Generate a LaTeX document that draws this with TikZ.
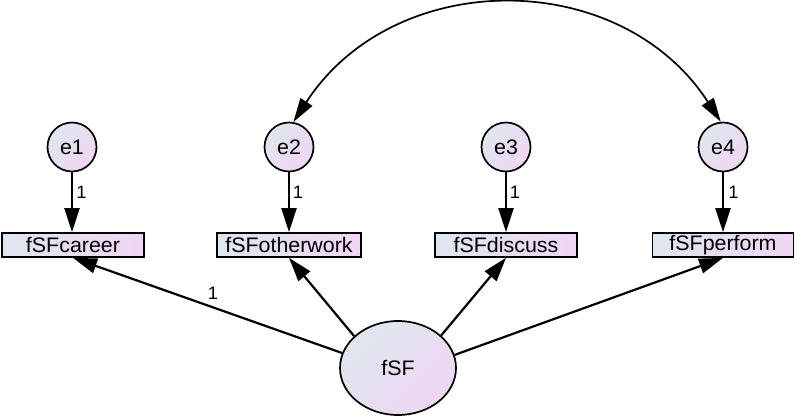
\documentclass[tikz,border=0pt]{standalone}
\usepackage{fontspec}
\setmainfont[FakeStretch=1.02]{Liberation Sans}
\usetikzlibrary{arrows.meta,shapes.geometric}
\definecolor{cL}{RGB}{222,231,238}
\definecolor{cR}{RGB}{240,214,244}
\begin{document}
\begin{tikzpicture}[x=1pt,y=1pt,
  every node/.style={font=\fontsize{21}{23}\selectfont, inner sep=0pt},
  errc/.style={circle, draw, line width=1.7pt, minimum size=49pt, top color=cL, bottom color=cR, shading angle=45},
  obsbox/.style={rectangle, draw, line width=1.7pt, minimum height=24pt, top color=cL, bottom color=cR, shading angle=90},
  latent/.style={ellipse, draw, line width=1.7pt, minimum width=116pt, minimum height=94pt, top color=cL, bottom color=cR, shading angle=45},
  arr/.style={line width=2.2pt, -{Triangle[length=24pt,width=15pt]}},
  cov/.style={line width=1.7pt, {Triangle[length=24pt,width=14pt]}-{Triangle[length=24pt,width=14pt]}},
  lab/.style={font=\fontsize{18}{20}\selectfont}
]
\useasboundingbox (0,0) rectangle (795,417);
\node[errc] (e1) at (72,270) {e1};
\node[errc] (e2) at (289,270) {e2};
\node[errc] (e3) at (506,270) {e3};
\node[errc] (e4) at (723,270) {e4};
\node[obsbox, minimum width=142pt] (b1) at (73,172) {fSFcareer};
\node[obsbox, minimum width=144pt] (b2) at (289,172) {fSFotherwork};
\node[obsbox, minimum width=142pt] (b3) at (506,172) {fSFdiscuss};
\node[obsbox, minimum width=141pt] (b4) at (723,172) {fSFperform};
\node[latent] (f) at (398,49) {fSF};
\draw[arr] (e1) -- (e1 |- b1.north);
\draw[arr] (e2) -- (b2);
\draw[arr] (e3) -- (b3);
\draw[arr] (e4) -- (b4);
\node[lab] (l1) at (81.5,225) {1};
\node[lab] (l2) at (298,225) {1};
\node[lab] (l3) at (515,225) {1};
\node[lab] (l4) at (733.5,225) {1};
\draw[arr] (f.165) -- (b1.south);
\draw[arr] (f.144) -- (b2.south);
\draw[arr] (f.37) -- (b3.south);
\draw[arr] (f.13) -- (b4.south);
\node[lab] (lp) at (213,124) {1};
\draw[cov] (e2.80) to[out=57,in=123,looseness=1.11] (e4.95);
\end{tikzpicture}
\end{document}
